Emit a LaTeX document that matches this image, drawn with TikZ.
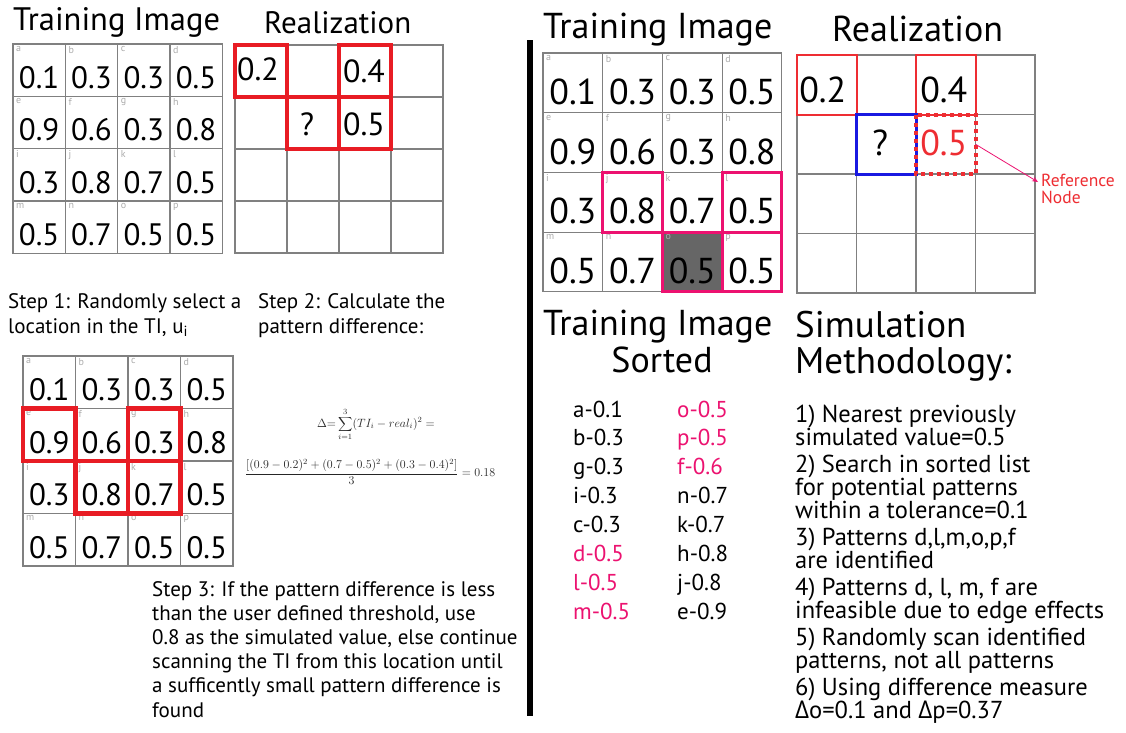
\documentclass[tikz,border=0pt]{standalone}
\usepackage{fontspec}
\setmainfont{PT Sans}
\newfontfamily\grkfont{Open Sans}
\usetikzlibrary{backgrounds,arrows.meta}

\definecolor{gridgray}{RGB}{128,128,128}
\definecolor{boxred}{RGB}{232,28,36}
\definecolor{thinred}{RGB}{238,45,50}
\definecolor{hotpink}{RGB}{236,18,112}
\definecolor{selblue}{RGB}{25,25,225}
\definecolor{cellfill}{RGB}{102,102,102}

\tikzset{
  cell/.style={draw=gridgray, line width=1.2pt, inner sep=0pt, outer sep=0pt},
  cellnum/.style={inner sep=0pt},
  cellid/.style={inner sep=0pt, anchor=north west, text=gray!65, font=\fontsize{10}{10}\selectfont},
  txt/.style={inner sep=0pt, anchor=base west},
  patchred/.style={draw=boxred, line width=4.5pt},
  thinbox/.style={draw=thinred, line width=2pt},
  pinkbox/.style={draw=hotpink, line width=3pt},
  bluebox/.style={draw=selblue, line width=3pt},
  dotbox/.style={draw=thinred, line width=4pt, dash pattern=on 4pt off 4pt},
  pinkarrow/.style={draw=hotpink, line width=0.8pt, -{Stealth[length=6pt,width=5pt]}},
}

% 4x4 training image: prefix, left x, top y, cell size, number size, number drop
\newcommand\tiGrid[6]{%
  \foreach \lt/\val [count=\k from 0] in
    {a/0.1,b/0.3,c/0.3,d/0.5,e/0.9,f/0.6,g/0.3,h/0.8,i/0.3,j/0.8,k/0.7,l/0.5,m/0.5,n/0.7,o/0.5,p/0.5}{
    \pgfmathtruncatemacro\cc{mod(\k,4)}
    \pgfmathtruncatemacro\rr{div(\k,4)}
    \node[cell, minimum size=#4] (#1-\lt) at ({#2+(\cc+0.5)*#4},{#3+(\rr+0.5)*#4}) {};
    \node[cellnum, font=\fontsize{#5}{#5}\selectfont] (#1-\lt-v) at ([shift={(0,#6)}]#1-\lt.center) {\val};
    \node[cellid] (#1-\lt-id) at ([shift={(3,2)}]#1-\lt.north west) {\lt};
  }}

% empty 4x4 realization grid: prefix, left x, top y, cell size
\newcommand\realGrid[4]{%
  \foreach \rr in {0,...,3}{\foreach \cc in {0,...,3}{
    \node[cell, minimum size=#4] (#1-\rr\cc) at ({#2+(\cc+0.5)*#4},{#3+(\rr+0.5)*#4}) {};
  }}}

% lines of text set one below the other: name, x, first baseline, step, font, lines
\newcommand\textLines[6]{%
  \foreach \ln [count=\q from 0] in {#6}{
    \node[txt, font=#5] (#1-\q) at (#2,{#3+\q*#4}) {\ln};
  }}

\begin{document}
\begin{tikzpicture}[x=1pt, y=-1pt]
\useasboundingbox (0,0) rectangle (1126,732);
\begin{scope}[on background layer]
  \fill[white] (0,0) rectangle (1126,732);
\end{scope}

% ---------- left half: worked example ----------
\node[txt, font=\fontsize{32.5}{33}\selectfont] (title-ti1) at (13,30) {Training Image};
\node[txt, font=\fontsize{31}{32}\selectfont] (title-re1) at (264,33) {Realization};

\tiGrid{T1}{13}{44}{52.3}{31}{7.5}
\realGrid{R1}{235}{45}{52}

\node[cellnum, font=\fontsize{32}{32}\selectfont] (R1-v00) at ([shift={(-3,-2)}]R1-00.center) {0.2};
\node[cellnum, font=\fontsize{32}{32}\selectfont] (R1-v02) at ([shift={(-1,0)}]R1-02.center) {0.4};
\node[cellnum, font=\fontsize{32}{32}\selectfont] (R1-v11) at ([shift={(-6,1)}]R1-11.center) {?};
\node[cellnum, font=\fontsize{32}{32}\selectfont] (R1-v12) at ([shift={(-1,1)}]R1-12.center) {0.5};

\draw[patchred] (R1-00.north west) rectangle (R1-00.south east);
\draw[patchred] (R1-02.north west) rectangle (R1-02.south east);
\draw[patchred] (R1-11.north west) rectangle (R1-11.south east);
\draw[patchred] (R1-12.north west) rectangle (R1-12.south east);

\textLines{step1}{8}{308}{25}{\fontsize{21}{25}\selectfont}{{Step 1: Randomly select a},{location in the TI, u\textsubscript{i}}}
\textLines{step2}{258}{308}{25}{\fontsize{21}{25}\selectfont}{{Step 2: Calculate the},{pattern difference:}}

\tiGrid{T3}{23}{356}{52.5}{31}{7.5}
\draw[patchred] (T3-e.north west) rectangle (T3-e.south east);
\draw[patchred] (T3-g.north west) rectangle (T3-g.south east);
\draw[patchred] (T3-j.north west) rectangle (T3-j.south east);
\draw[patchred] (T3-k.north west) rectangle (T3-k.south east);

\node[inner sep=0pt, text=black!85, font=\fontsize{12}{14}\selectfont] (eq1) at (376,424)
  {$\Delta{=}\displaystyle\sum_{i=1}^{3}(TI_i-real_i)^2=$};
\node[inner sep=0pt, text=black!85, font=\fontsize{11.5}{14}\selectfont] (eq2) at (370,472)
  {$\displaystyle\frac{[(0.9-0.2)^2+(0.7-0.5)^2+(0.3-0.4)^2]}{3}=0.18$};

\textLines{step3}{152}{596}{24.2}{\fontsize{21}{24}\selectfont}{{Step 3: If the pattern difference is less},{than the user defined threshold, use},{0.8 as the simulated value, else continue},{scanning the TI from this location until},{a sufficently small pattern difference is},{found}}

% separator between the two halves
\draw[line width=5.5pt] (530,40) -- (530,716);

% ---------- right half: sorted search ----------
\node[txt, font=\fontsize{36}{36}\selectfont] (title-ti2) at (543,38) {Training Image};
\node[txt, font=\fontsize{36}{36}\selectfont] (title-re2) at (832,41) {Realization};

\tiGrid{T2}{543}{53}{59.7}{36}{9}
\begin{scope}[on background layer]
  \fill[cellfill] (T2-o.north west) rectangle (T2-o.south east);
\end{scope}
\draw[pinkbox] (T2-j.north west) rectangle (T2-j.south east);
\draw[pinkbox] (T2-l.north west) rectangle (T2-l.south east);
\draw[pinkbox] (T2-o.north west) rectangle (T2-o.south east);
\draw[pinkbox] (T2-p.north west) rectangle (T2-p.south east);

\realGrid{R2}{797}{55}{59.5}
\node[cellnum, font=\fontsize{36}{36}\selectfont] (R2-v00) at ([shift={(-4,5)}]R2-00.center) {0.2};
\node[cellnum, font=\fontsize{36}{36}\selectfont] (R2-v02) at ([shift={(-2,5)}]R2-02.center) {0.4};
\node[cellnum, font=\fontsize{36}{36}\selectfont] (R2-v11) at ([shift={(-6,-1)}]R2-11.center) {?};
\node[cellnum, text=thinred, font=\fontsize{36}{36}\selectfont] (R2-v12) at ([shift={(-2,-1)}]R2-12.center) {0.5};

\draw[thinbox] (R2-00.north west) rectangle (R2-00.south east);
\draw[thinbox] (R2-02.north west) rectangle (R2-02.south east);
\draw[bluebox] (R2-11.north west) rectangle (R2-11.south east);
\draw[dotbox] (R2-12.north west) rectangle (R2-12.south east);

\node[txt, anchor=north west, align=left, text=thinred, font=\fontsize{17.5}{17}\selectfont] (refnode) at (1041,174) {Reference\\Node};
\coordinate (reftip) at ([shift={(-3,-7)}]refnode.west);
\draw[pinkarrow] (R2-12.east) -- (reftip);

\node[txt, font=\fontsize{36}{37}\selectfont] (title-sorted) at (543,335) {Training Image};
\node[inner sep=0pt, anchor=base, font=\fontsize{36}{37}\selectfont] (title-sorted2) at (662,372) {Sorted};

\foreach \item/\col [count=\q from 0] in {a-0.1/black,b-0.3/black,g-0.3/black,i-0.3/black,c-0.3/black,d-0.5/hotpink,l-0.5/hotpink,m-0.5/hotpink}{
  \node[txt, text=\col, font=\fontsize{23}{23}\selectfont] (sortA-\q) at (573,{417+\q*28.9}) {\item};
}
\foreach \item/\col [count=\q from 0] in {o-0.5/hotpink,p-0.5/hotpink,f-0.6/hotpink,n-0.7/black,k-0.7/black,h-0.8/black,j-0.8/black,e-0.9/black}{
  \node[txt, text=\col, font=\fontsize{23}{23}\selectfont] (sortB-\q) at (677,{417+\q*28.9}) {\item};
}

\node[txt, font=\fontsize{37}{37}\selectfont] (title-sim) at (795,337) {Simulation};
\node[txt, font=\fontsize{37}{37}\selectfont] (title-sim2) at (795,373) {Methodology:};

\textLines{meth1}{795}{422}{23}{\fontsize{24.5}{23}\selectfont}{{1) Nearest previously},{simulated value=0.5}}
\textLines{meth2}{795}{472}{23}{\fontsize{24.5}{23}\selectfont}{{2) Search in sorted list},{for potential patterns},{within a tolerance=0.1}}
\textLines{meth3}{795}{545}{23}{\fontsize{24.5}{23}\selectfont}{{3) Patterns d,l,m,o,p,f},{are identified}}
\textLines{meth4}{795}{595}{23}{\fontsize{24.5}{23}\selectfont}{{4) Patterns d, l, m, f are},{infeasible due to edge effects}}
\textLines{meth5}{795}{645}{23}{\fontsize{24.5}{23}\selectfont}{{5) Randomly scan identified},{patterns, not all patterns}}
\textLines{meth6}{795}{695}{23}{\fontsize{24.5}{23}\selectfont}{{6) Using difference measure},{{\grkfont Δ}o=0.1 and {\grkfont Δ}p=0.37}}
\end{tikzpicture}
\end{document}
